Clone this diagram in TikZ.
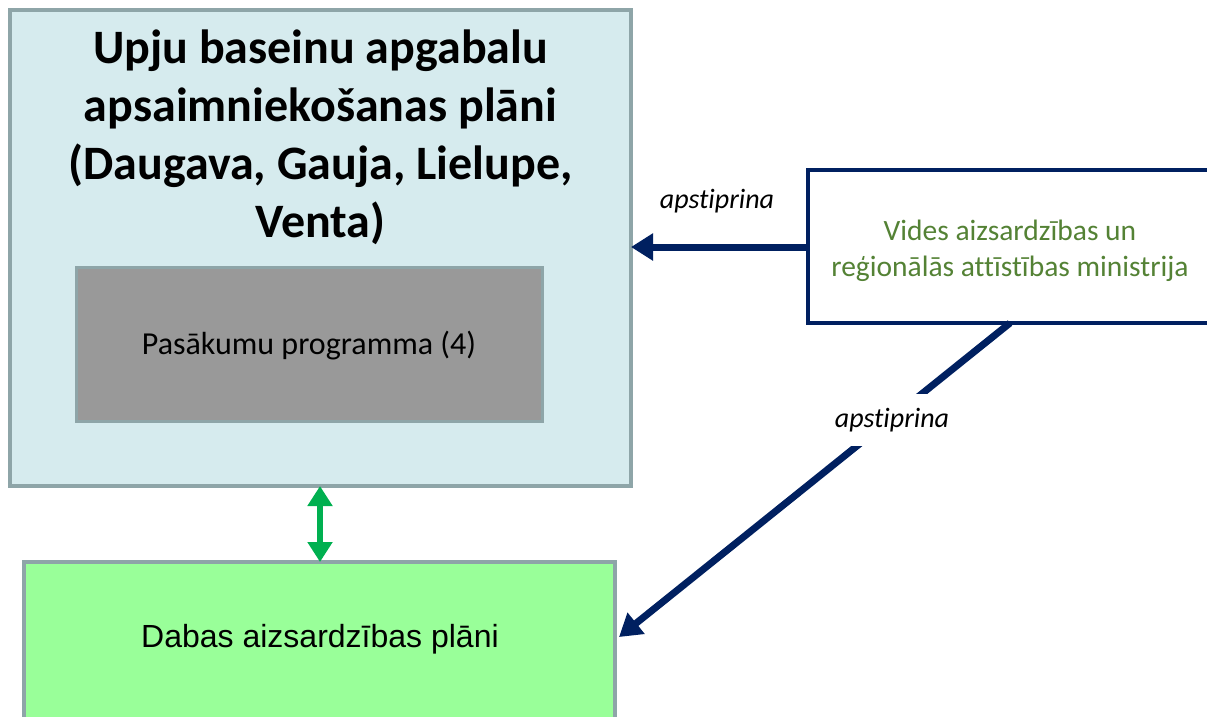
\documentclass[tikz,border=0pt]{standalone}
\usepackage{fontspec}
\setmainfont[Ligatures=NoCommon]{Carlito}
\newfontfamily\arialf{Liberation Sans}
\usetikzlibrary{arrows.meta}
\definecolor{boxgray}{HTML}{8EA5A8}
\definecolor{lightblue}{HTML}{D6EBEE}
\definecolor{midgray}{HTML}{999999}
\definecolor{navy}{HTML}{002060}
\definecolor{lightgreen}{HTML}{99FF99}
\definecolor{txtgreen}{HTML}{548235}
\definecolor{arrgreen}{HTML}{00B050}
\tikzset{
  graybox/.style={draw=boxgray, line width=4pt},
  navyarrow/.style={draw=navy, line width=7pt, -{Triangle[length=22pt,width=26pt]}},
  lbl/.style={font=\fontsize{28}{32}\selectfont\itshape, text=black},
}
\begin{document}
\begin{tikzpicture}[x=1pt,y=-1pt]
\useasboundingbox (0,0) rectangle (1207,716);
\clip (0,0) rectangle (1207,716);
% top box
\draw[graybox, fill=lightblue] (10,10) rectangle (631,486);
\node (top) at (320.5,248) [minimum width=621pt, minimum height=476pt] {};
\node (title) at (320.5,137) [align=center, font=\fontsize{48}{58}\selectfont\bfseries] {Upju baseinu apgabalu\\apsaimniekošanas plāni\\(Daugava, Gauja, Lielupe,\\Venta)};
% inner box
\draw[draw=boxgray, line width=3pt, fill=midgray] (76,267) rectangle (542,421);
\node (prog) at (309,346) [font=\fontsize{32}{36}\selectfont] {Pasākumu programma (4)};
% right box
\draw[draw=navy, line width=4pt, fill=white] (808,170) rectangle (1230,323);
\node (min) at (1010,251) [align=center, text=txtgreen, font=\fontsize{29.5}{36}\selectfont] {Vides aizsardzības un\\reģionālās attīstības ministrija};
% bottom box
\draw[graybox, fill=lightgreen] (24,562) rectangle (615,740);
\node (dab) at (320,639) [font=\arialf\fontsize{32}{36}\selectfont] {Dabas aizsardzības plāni};
% coordinates
\coordinate (minL) at (808,247);
\coordinate (topR) at (631,247);
\coordinate (minB) at (1010,323);
\coordinate (dabR) at (619,637);
\coordinate (topB) at (320,486);
\coordinate (dabT) at (320,562);
% arrows
\draw[navyarrow] (minL) -- (topR);
\node (l1) at (717,201) [lbl] {apstiprina};
\draw[navyarrow] (minB) -- (dabR);
\node (l2) at (892,420) [lbl, fill=white, inner xsep=4pt, inner ysep=14pt] {apstiprina};
\draw[draw=arrgreen, line width=6pt, {Triangle[length=20pt,width=24pt]}-{Triangle[length=20pt,width=24pt]}] (topB) -- (dabT);
\end{tikzpicture}
\end{document}
